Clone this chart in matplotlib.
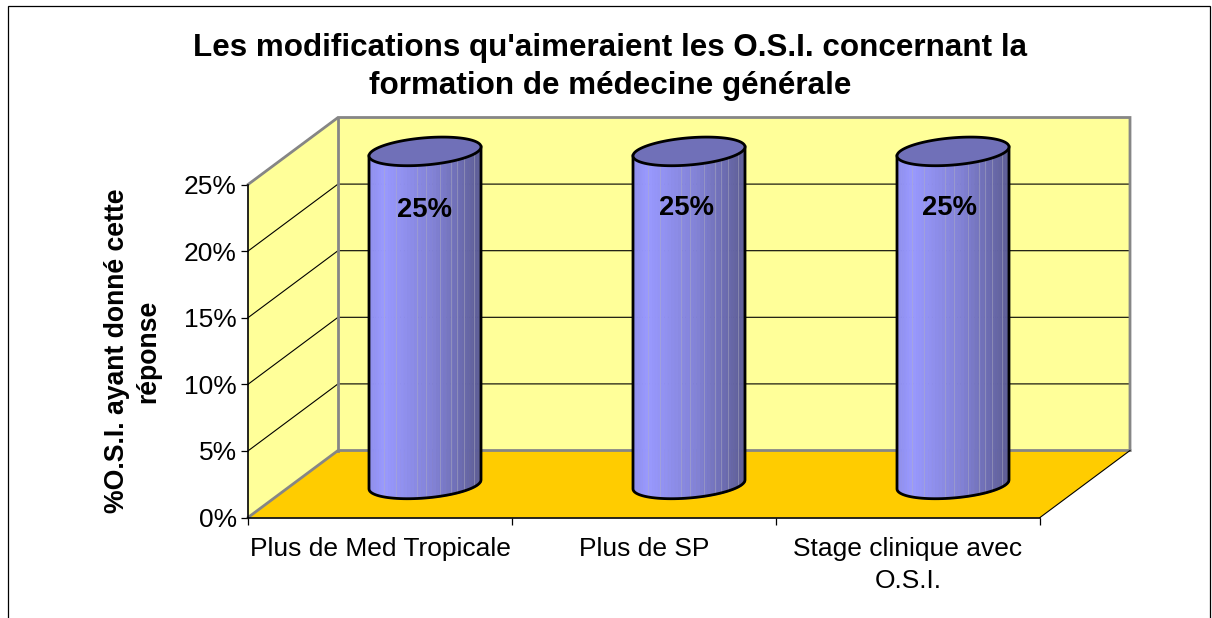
import matplotlib
matplotlib.use("Agg")
import matplotlib.pyplot as plt
from matplotlib.patches import Polygon, Rectangle
import numpy as np

plt.rcParams['font.family'] = ['Liberation Sans', 'DejaVu Sans']

categories = ['Plus de Med Tropicale', 'Plus de SP', 'Stage clinique avec\nO.S.I.']
valeurs = [25, 25, 25]
labels_barres = ['25%', '25%', '25%']
yticks = [0, 5, 10, 15, 20, 25]
ytick_labels = ['0%', '5%', '10%', '15%', '20%', '25%']

titre = "Les modifications qu'aimeraient les O.S.I. concernant la\nformation de médecine générale"
ylabel = "%O.S.I. ayant donné cette\nréponse"

W, H = 1212, 618
fig = plt.figure(figsize=(W / 100, H / 100), dpi=100)
ax = fig.add_axes([248 / W, (H - 517.5) / H, 792 / W, 333 / H])
ax.set_xlim(0, 3)
ax.set_ylim(0, 25)
ax.patch.set_visible(False)
for s in ax.spines.values():
    s.set_visible(False)

# decalage de la profondeur (fausse 3D), en unites de donnees
DX = 90 / 264
DY = 5.03
GRIS = '#868686'
xmax = len(categories)
ymax = yticks[-1]

# parois
ax.add_patch(Polygon([(DX, DY), (xmax + DX, DY), (xmax + DX, ymax + DY), (DX, ymax + DY)],
                     fc='#FFFF99', ec='none', clip_on=False, zorder=1))
ax.add_patch(Polygon([(0, 0), (DX, DY), (DX, ymax + DY), (0, ymax)],
                     fc='#FFFF99', ec='none', clip_on=False, zorder=1))
ax.add_patch(Polygon([(0, 0), (xmax, 0), (xmax + DX, DY), (DX, DY)],
                     fc='#FFCC00', ec='none', clip_on=False, zorder=1))

# grille
for v in yticks[1:]:
    ax.plot([0, DX, xmax + DX], [v, v + DY, v + DY], color='black', lw=0.8, clip_on=False, zorder=2)

# bords gris
ax.plot([0, DX, xmax + DX, xmax + DX], [ymax, ymax + DY, ymax + DY, DY], color=GRIS, lw=2,
        clip_on=False, zorder=3, solid_joinstyle='miter')
ax.plot([DX, DX], [DY, ymax + DY], color=GRIS, lw=2, clip_on=False, zorder=3)
ax.plot([0, DX, xmax + DX], [0, DY, DY], color=GRIS, lw=2, clip_on=False, zorder=3)
ax.plot([xmax, xmax + DX], [0, DY], color='black', lw=0.8, clip_on=False, zorder=3)

# axes
ax.plot([0, 0], [0, ymax], color='black', lw=1.2, clip_on=False, zorder=4)
ax.plot([0, xmax], [0, 0], color='black', lw=1.2, clip_on=False, zorder=4)


def couleur(f):
    # degrade du cylindre, de gauche a droite
    stops = np.array([[0.56, 0.56, 0.93], [0.60, 0.60, 1.0], [0.51, 0.51, 0.84], [0.36, 0.36, 0.58]])
    pos = [0, 0.12, 0.55, 1]
    return [np.interp(f, pos, stops[:, k]) for k in range(3)]


RX = 56 / 264
RY = 13.6 / 13.32
SK = 4.5 / 13.32
t = np.linspace(np.pi, 2 * np.pi, 49)
tt = np.linspace(0, 2 * np.pi, 100)
# traits clairs verticaux, en fraction de la largeur du cylindre
traits = [0.13, 0.24, 0.43, 0.51, 0.63, 0.73, 0.79, 0.85, 0.94]

for i, v in enumerate(valeurs):
    cx = i + 0.5 + DX / 2
    y0 = DY / 2 - 0.03
    x = cx + RX * np.cos(t)
    bas = y0 + SK * np.cos(t) + RY * np.sin(t)
    haut = bas + v
    for k in range(len(t) - 1):
        ax.fill_between(x[k:k + 2], bas[k:k + 2], haut[k:k + 2], color=couleur((x[k] - x[0]) / (x[-1] - x[0])),
                        lw=0.6, antialiased=False, clip_on=False, zorder=5)
    for f in traits:
        xt = x[0] + f * (x[-1] - x[0])
        ax.plot([xt, xt], [np.interp(xt, x, bas), np.interp(xt, x, haut)], color='#B0B0C0', lw=0.6, alpha=0.55,
                clip_on=False, zorder=5.5)
    ax.plot(np.r_[x[0], x, x[-1]], np.r_[haut[0], bas, haut[-1]], color='black', lw=2,
            clip_on=False, zorder=6)
    # dessus
    dessus = np.c_[cx + RX * np.cos(tt), v + y0 + SK * np.cos(tt) + RY * np.sin(tt)]
    ax.add_patch(Polygon(dessus, fc='#7070B8', ec='black', lw=2, clip_on=False, zorder=7))

pos_labels = [(0.667, 23.05), (1.659, 23.2), (2.655, 23.2)]
for (px, py), lab in zip(pos_labels, labels_barres):
    ax.text(px + 0.003, py, lab, ha='center', va='center', fontsize=19.7, fontweight='bold', zorder=8)

ax.set_yticks(yticks)
ax.set_yticklabels(ytick_labels, fontsize=19)
ax.set_xticks(range(xmax + 1))
ax.set_xticklabels([''] * (xmax + 1))
ax.set_xticks(np.arange(xmax) + 0.5, minor=True)
ax.set_xticklabels(categories, minor=True, fontsize=19, linespacing=1.4)
ax.tick_params(axis='x', which='major', length=5, width=0.9)
ax.tick_params(axis='x', which='minor', length=0, pad=14)
ax.tick_params(axis='y', length=5, width=0.9, pad=3)

fig.text(610.5 / W, 1 - 67 / H, titre, ha='center', va='center', fontsize=22.6, fontweight='bold', linespacing=1.36)
fig.text(133 / W, 1 - 351 / H, ylabel, ha='center', va='center', rotation=90, fontsize=19.2,
         fontweight='bold', linespacing=1.26)

# cadre du graphique (le bas sort de l'image)
fig.add_artist(Rectangle((8 / W, -0.1), 1202 / W, 1.1 + (-6.5) / H, transform=fig.transFigure,
                         fc='none', ec='black', lw=0.9))

plt.savefig('out.png', dpi=100)
